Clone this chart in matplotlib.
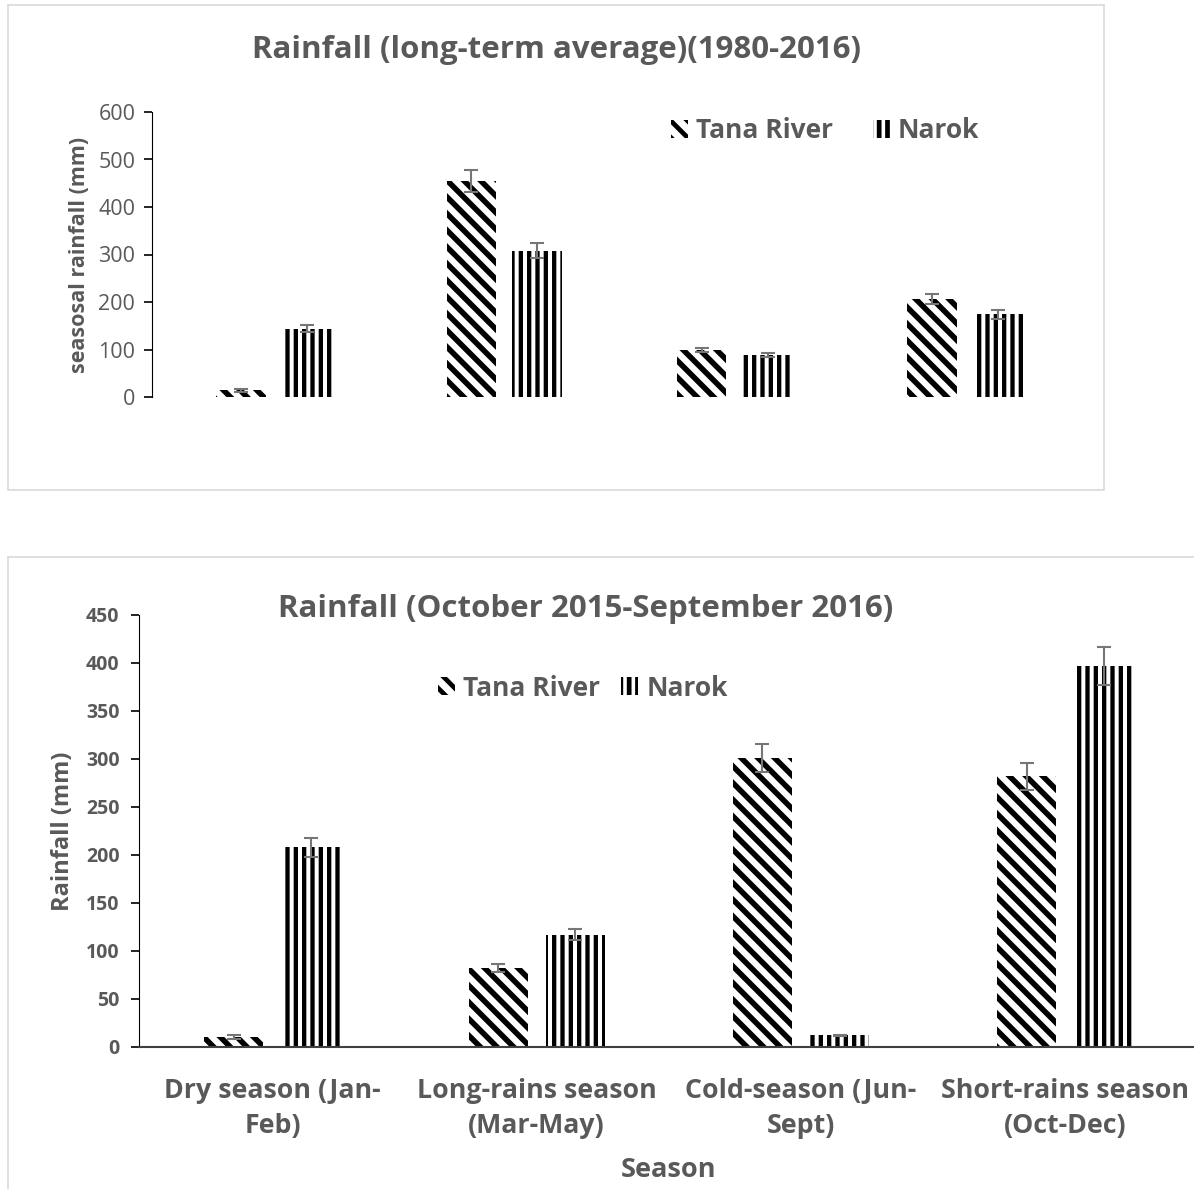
import numpy as np
import matplotlib
matplotlib.use("Agg")
import matplotlib.pyplot as plt
from matplotlib.patches import Rectangle, Patch

plt.rcParams['font.family'] = ['Open Sans', 'DejaVu Sans']
plt.rcParams['hatch.linewidth'] = 3.4

# ----- data -----
seasons = ['Dry season (Jan-\nFeb)', 'Long-rains season\n(Mar-May)',
           'Cold-season (Jun-\nSept)', 'Short-rains season\n(Oct-Dec)']

# long-term average 1980-2016
tana_lt = [14, 455, 99, 206]
tana_lt_err = [3, 23, 5, 10]
narok_lt = [144, 308, 89, 174]
narok_lt_err = [8, 16, 4.5, 9]

# October 2015 - September 2016
tana_16 = [10, 82, 301, 282]
tana_16_err = [2, 4, 15, 14]
narok_16 = [208, 117, 12, 397]
narok_16_err = [10, 6, 1, 20]

grey = '#595959'
err_grey = '#767676'
W, H = 1194, 1189
diag = '\\\\'
vert = '||'

fig = plt.figure(figsize=(W / 100, H / 100), dpi=100)

# chart frames
fig.add_artist(Rectangle((8 / W, 1 - 490 / H), (1104 - 8) / W, (490 - 5) / H,
                         transform=fig.transFigure, fill=False, edgecolor='#d9d9d9', lw=1.2))
fig.add_artist(Rectangle((8 / W, -0.02), 1.05, 1 - 557 / H + 0.02,
                         transform=fig.transFigure, fill=False, edgecolor='#d9d9d9', lw=1.2))

x = np.arange(len(seasons))


def hatch_lw(artists, lw):
    for a in artists:
        if hasattr(a, 'set_hatch_linewidth'):
            a.set_hatch_linewidth(lw)


def draw_bars(ax, tana, tana_err, narok, narok_err, off, bw):
    b1 = ax.bar(x - off, tana, bw, color='white', edgecolor='black', linewidth=0, hatch=diag)
    b2 = ax.bar(x + off, narok, bw, color='white', edgecolor='black', linewidth=0, hatch=vert)
    hatch_lw(b1, 4.0)
    hatch_lw(b2, 3.1)
    ax.errorbar(x - off, tana, yerr=tana_err, fmt='none', ecolor=err_grey, elinewidth=1.5,
                capsize=5, capthick=1.5)
    ax.errorbar(x + off, narok, yerr=narok_err, fmt='none', ecolor=err_grey, elinewidth=1.5,
                capsize=5, capthick=1.5)


# ----- top chart -----
ax1 = fig.add_axes([152 / W, 1 - 397 / H, (1080 - 152) / W, (397 - 112) / H])
draw_bars(ax1, tana_lt, tana_lt_err, narok_lt, narok_lt_err, 0.143, 0.215)
ax1.set_xlim(-0.53, 3.5)
ax1.set_ylim(0, 600)
ax1.set_yticks(np.arange(0, 601, 100))
for s in ['top', 'right', 'bottom']:
    ax1.spines[s].set_visible(False)
ax1.spines['left'].set_color('black')
ax1.set_xticks([])
ax1.tick_params(axis='y', labelsize=15.5, labelcolor=grey, length=6, width=1.2, pad=6)
ax1.set_ylabel('seasosal rainfall (mm)', fontsize=15.5, fontweight='bold', color=grey, labelpad=6)
fig.text(556 / W, 1 - 50 / H, 'Rainfall (long-term average)(1980-2016)', ha='center', va='center',
         fontsize=22.5, fontweight='bold', color=grey)

handles = [Patch(facecolor='white', edgecolor='black', linewidth=0, hatch=diag, label='Tana River'),
           Patch(facecolor='white', edgecolor='black', linewidth=0, hatch=vert, label='Narok')]
hatch_lw(handles[:1], 4.0)
hatch_lw(handles[1:], 3.1)
fig.legend(handles=handles, loc='center', bbox_to_anchor=(825 / W, 1 - 131 / H), ncol=2,
           frameon=False, labelcolor=grey, prop={'weight': 'bold', 'size': 19},
           handlelength=0.65, handleheight=0.65, handletextpad=0.3, columnspacing=1.5)

# ----- bottom chart -----
ax2 = fig.add_axes([139 / W, 1 - 1047 / H, (1194 - 139) / W, (1047 - 615) / H])
draw_bars(ax2, tana_16, tana_16_err, narok_16, narok_16_err, 0.146, 0.223)
ax2.set_xlim(-0.505, 3.487)
ax2.set_ylim(0, 450)
ax2.set_yticks(np.arange(0, 451, 50))
for s in ['top', 'right']:
    ax2.spines[s].set_visible(False)
ax2.spines['left'].set_color('black')
ax2.spines['bottom'].set_color('#404040')
ax2.spines['bottom'].set_linewidth(1.5)
ax2.set_xticks(x)
ax2.set_xticklabels(seasons, fontsize=19.3, fontweight='bold', color=grey, linespacing=1.45)
ax2.tick_params(axis='x', length=0, pad=22)
ax2.tick_params(axis='y', labelsize=14, labelcolor=grey, length=6, width=1.2, pad=8)
for t in ax2.get_yticklabels():
    t.set_fontweight('bold')
ax2.set_ylabel('Rainfall (mm)', fontsize=17, fontweight='bold', color=grey, labelpad=8)
ax2.set_xlabel('Season', fontsize=19.5, fontweight='bold', color=grey)
ax2.xaxis.set_label_coords((668 - 139) / (1194 - 139), -(1157 - 1047) / (1047 - 615))
fig.text(586 / W, 1 - 609 / H, 'Rainfall (October 2015-September 2016)', ha='center', va='center',
         fontsize=22.5, fontweight='bold', color=grey)
fig.legend(handles=handles, loc='center', bbox_to_anchor=(583 / W, 1 - 688 / H), ncol=2,
           frameon=False, labelcolor=grey, prop={'weight': 'bold', 'size': 19},
           handlelength=0.65, handleheight=0.65, handletextpad=0.3, columnspacing=0.8)

fig.savefig('out.png', dpi=100)
